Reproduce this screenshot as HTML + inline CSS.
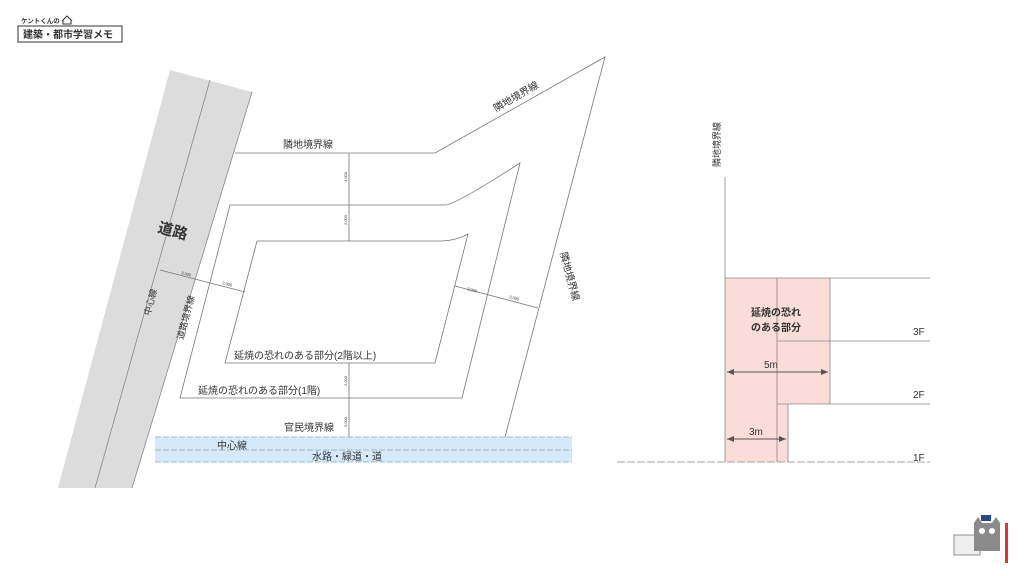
<!DOCTYPE html>
<html><head><meta charset="utf-8"><style>
html,body{margin:0;padding:0;background:#fff;width:1024px;height:576px;overflow:hidden}
svg{display:block}
text{font-family:"Liberation Sans","Noto Sans CJK JP",sans-serif;fill:#333}
</style></head><body>
<svg width="1024" height="576" viewBox="0 0 1024 576">
<defs><marker id="ar" markerWidth="8" markerHeight="8" refX="7" refY="4" orient="auto-start-reverse"><path d="M0,1 L7,4 L0,7z" fill="#555"/></marker></defs>
<!-- logo -->
<text x="21" y="23" font-size="6.5" font-weight="bold">ケントくんの</text>
<path d="M62,21 l5,-5 l5,5 M63,20 v4 h8 v-4" stroke="#333" fill="none" stroke-width="1"/>
<rect x="18" y="26" width="104" height="16" fill="none" stroke="#333" stroke-width="1"/>
<text x="23" y="38" font-size="10" font-weight="bold">建築・都市学習メモ</text>
<!-- road -->
<polygon points="170,70 252,92 132,488 58,488" fill="#dcdcdc"/>
<line x1="252" y1="92" x2="132" y2="488" stroke="#888" stroke-width="0.8"/>
<line x1="210" y1="80" x2="95" y2="488" stroke="#888" stroke-width="0.8"/>
<text font-size="15" font-weight="bold" fill="#222" transform="translate(157,232) rotate(15)">道路</text>
<text font-size="9" transform="translate(150,316) rotate(-75)">中心線</text>
<text font-size="9" transform="translate(183,340) rotate(-75)">道路境界線</text>
<!-- blue band -->
<rect x="155" y="437" width="417" height="25" fill="#d6e9f9"/>
<line x1="155" y1="437" x2="572" y2="437" stroke="#8aa" stroke-width="0.8" stroke-dasharray="6,2"/>
<line x1="155" y1="450" x2="572" y2="450" stroke="#8aa" stroke-width="0.8" stroke-dasharray="6,2"/>
<line x1="155" y1="462" x2="572" y2="462" stroke="#8aa" stroke-width="0.8" stroke-dasharray="6,2"/>
<text x="217" y="449" font-size="10">中心線</text>
<text x="312" y="460" font-size="10">水路・緑道・道</text>
<!-- site boundary -->
<g fill="none" stroke="#777" stroke-width="0.8">
<polyline points="235,153 435,153 605,57 505,437"/>
<path d="M230,205 L445,205 Q455,205 520,163 L462,398 L180,398 Z"/>
<path d="M257,241 L440,241 Q455,241 468,234 L435,363 L225,363 Z"/>
<line x1="349" y1="153" x2="349" y2="241"/>
<line x1="349" y1="363" x2="349" y2="437"/>
<line x1="160" y1="270" x2="245" y2="292"/>
<line x1="455" y1="286" x2="538" y2="308"/>
</g>
<text x="283" y="148" font-size="10">隣地境界線</text>
<text font-size="10" transform="translate(496,112) rotate(-30)">隣地境界線</text>
<text font-size="10" transform="translate(560,253) rotate(75)">隣地境界線</text>
<text x="234" y="359" font-size="10">延焼の恐れのある部分(2階以上)</text>
<text x="198" y="394" font-size="10">延焼の恐れのある部分(1階)</text>
<text x="284" y="431" font-size="10">官民境界線</text>
<g font-size="4" fill="#666">
<text transform="translate(347,182) rotate(-90)">3,000</text>
<text transform="translate(347,225) rotate(-90)">2,000</text>
<text transform="translate(347,386) rotate(-90)">2,000</text>
<text transform="translate(347,427) rotate(-90)">3,000</text>
<text transform="translate(181,274) rotate(15)">3,000</text>
<text transform="translate(222,284) rotate(15)">2,000</text>
<text transform="translate(467,290) rotate(15)">2,000</text>
<text transform="translate(509,298) rotate(15)">3,000</text>
</g>
<!-- right diagram -->
<rect x="725" y="278" width="105" height="126" fill="#fadcd8"/>
<rect x="725" y="404" width="63" height="58" fill="#fadcd8"/>
<g stroke="#888" stroke-width="0.8" fill="none">
<line x1="725" y1="177" x2="725" y2="462"/>
<line x1="725" y1="278" x2="930" y2="278"/>
<line x1="777" y1="341" x2="930" y2="341"/>
<line x1="777" y1="404" x2="930" y2="404"/>
<line x1="830" y1="278" x2="830" y2="404"/>
<line x1="788" y1="404" x2="788" y2="462"/>
<line x1="777" y1="278" x2="777" y2="462"/>
<line x1="617" y1="462" x2="930" y2="462" stroke-dasharray="8,2"/>
</g>
<line x1="727" y1="372" x2="828" y2="372" stroke="#555" stroke-width="1" marker-start="url(#ar)" marker-end="url(#ar)"/>
<line x1="727" y1="439" x2="786" y2="439" stroke="#555" stroke-width="1" marker-start="url(#ar)" marker-end="url(#ar)"/>
<text x="764" y="368" font-size="10">5m</text>
<text x="749" y="435" font-size="10">3m</text>
<text x="913" y="335" font-size="10">3F</text>
<text x="913" y="398" font-size="10">2F</text>
<text x="913" y="461" font-size="10">1F</text>
<text x="751" y="316" font-size="10" font-weight="bold" fill="#ef6a5a">延焼の恐れ</text>
<text x="751" y="331" font-size="10" font-weight="bold" fill="#ef6a5a">のある部分</text>
<text font-size="9" transform="translate(720,167) rotate(-90)">隣地境界線</text>
<!-- mascot -->
<g transform="translate(950,515)">
<rect x="4" y="20" width="26" height="20" fill="#eee" stroke="#777" stroke-width="0.8"/>
<path d="M24,8 l4,-6 l4,6 l10,0 l4,-6 l4,6 v28 h-26z" fill="#8a8a8a"/>
<rect x="31" y="0" width="10" height="6" fill="#2c4a8a"/>
<circle cx="32" cy="16" r="3" fill="#fff"/><circle cx="42" cy="16" r="3" fill="#fff"/>
<rect x="55" y="8" width="3" height="40" fill="#d33"/>
</g>
</svg>
</body></html>
